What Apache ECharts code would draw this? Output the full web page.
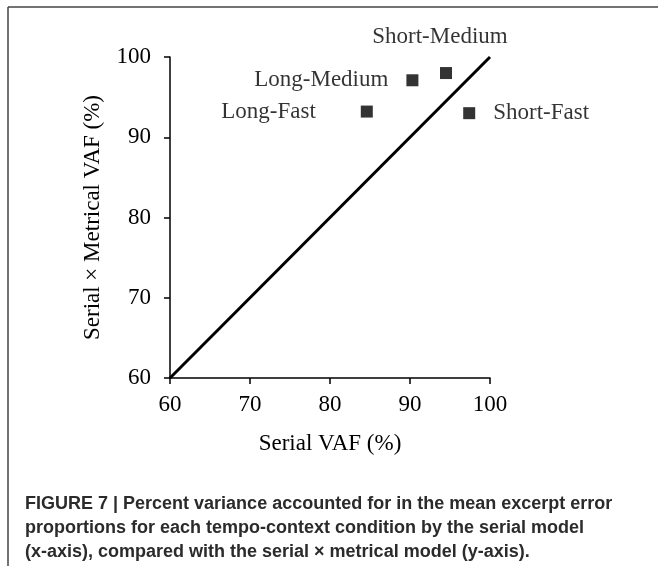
<!DOCTYPE html>
<html>
<head>
<meta charset="utf-8">
<script src="https://cdn.jsdelivr.net/npm/echarts@6/dist/echarts.min.js"></script>
<style>
html,body{margin:0;padding:0;background:#fff;}
#c{width:658px;height:566px;}
</style>
</head>
<body>
<div id="c"></div>
<script>
// Data
const conditions = ['Long-Fast', 'Long-Medium', 'Short-Medium', 'Short-Fast'];
const serialVAF = [84.6, 90.3, 94.5, 97.4];
const serialMetricalVAF = [93.2, 97.1, 98.0, 93.0];
const diagonalX = [60, 100];
const diagonalY = [60, 100];
const xTicks = [60, 70, 80, 90, 100];
const yTicks = [60, 70, 80, 90, 100];

// label placement (style only)
const labelStyle = {
  'Long-Fast': {position: 'left', distance: 45},
  'Long-Medium': {position: 'left', distance: 18},
  'Short-Medium': {position: 'top', distance: 19, offset: [-6, 0]},
  'Short-Fast': {position: 'right', distance: 18}
};

const serif = '"Liberation Serif", "Times New Roman", serif';
const fs = 23;

const chart = echarts.init(document.getElementById('c'), null, {renderer: 'canvas'});
const pointData = conditions.map((name, i) => ({
  name: name,
  value: [serialVAF[i], serialMetricalVAF[i]],
  label: Object.assign({show: true, formatter: name}, labelStyle[name])
}));

chart.setOption({
  animation: false,
  grid: {left: 170, right: 168, top: 57, bottom: 188},
  xAxis: {
    type: 'value', min: 60, max: 100, interval: 10,
    name: 'Serial VAF (%)', nameLocation: 'middle', nameGap: 54,
    nameTextStyle: {fontFamily: serif, fontSize: fs, color: '#000'},
    axisLine: {show: true, onZero: false, lineStyle: {color: '#000', width: 1.5}},
    axisTick: {show: true, length: 6, lineStyle: {color: '#000', width: 1.5}},
    axisLabel: {fontFamily: serif, fontSize: fs, color: '#000', margin: 15,
      formatter: v => xTicks.includes(v) ? String(v) : ''},
    splitLine: {show: false}
  },
  yAxis: {
    type: 'value', min: 60, max: 100, interval: 10,
    name: 'Serial \u00d7 Metrical VAF (%)', nameLocation: 'middle', nameGap: 66,
    nameTextStyle: {fontFamily: serif, fontSize: fs, color: '#000'},
    axisLine: {show: true, onZero: false, lineStyle: {color: '#000', width: 1.5}},
    axisTick: {show: true, length: 6, lineStyle: {color: '#000', width: 1.5}},
    axisLabel: {fontFamily: serif, fontSize: fs, color: '#000', margin: 19,
      formatter: v => yTicks.includes(v) ? String(v) : ''},
    splitLine: {show: false}
  },
  series: [
    {
      type: 'line',
      data: diagonalX.map((x, i) => [x, diagonalY[i]]),
      symbol: 'none',
      lineStyle: {color: '#000', width: 3},
      silent: true, z: 2
    },
    {
      type: 'scatter',
      data: pointData,
      symbol: 'rect', symbolSize: 12,
      itemStyle: {color: '#000'},
      label: {fontFamily: serif, fontSize: fs, color: '#000'},
      z: 3
    }
  ],
  graphic: [
    {type: 'line', shape: {x1: 8, y1: 7, x2: 658, y2: 7}, style: {stroke: '#444', lineWidth: 1.5}},
    {type: 'line', shape: {x1: 8, y1: 7, x2: 8, y2: 566}, style: {stroke: '#444', lineWidth: 1.5}},
    {
      type: 'text', left: 25, top: 492,
      style: {
        text: 'FIGURE 7 | Percent variance accounted for in the mean excerpt error\nproportions for each tempo-context condition by the serial model\n(x-axis), compared with the serial \u00d7 metrical model (y-axis).',
        font: 'bold 18px "Liberation Sans", Arial, sans-serif',
        fill: '#2b2b2b', lineHeight: 24
      }
    }
  ]
});
</script>
</body>
</html>
